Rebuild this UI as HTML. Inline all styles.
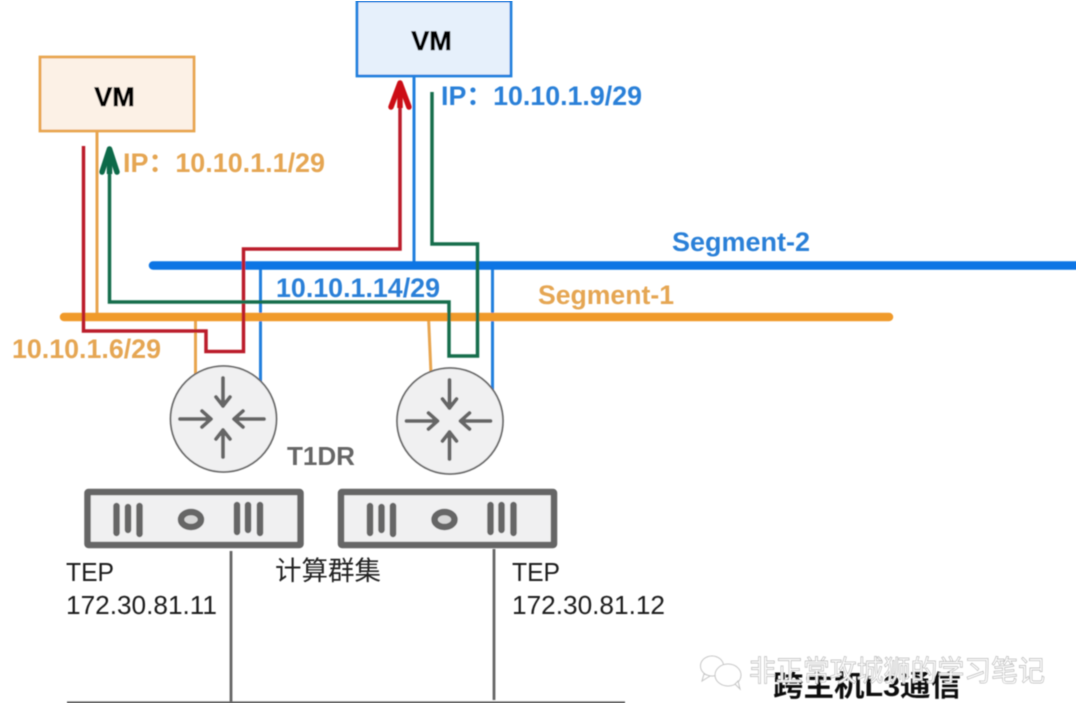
<!DOCTYPE html>
<html><head><meta charset="utf-8">
<style>
html,body{margin:0;padding:0;background:#fff;width:1080px;height:719px;overflow:hidden}
svg{display:block}
text{font-family:"Liberation Sans","Noto Sans CJK SC",sans-serif}
.b{font-weight:bold}
</style></head>
<body>
<svg width="1080" height="719" viewBox="0 0 1080 719" xmlns="http://www.w3.org/2000/svg">
<rect width="1080" height="719" fill="#fff"/>
<defs><filter id="s" x="0" y="0" width="100%" height="100%"><feGaussianBlur stdDeviation="0.6"/></filter></defs>
<g filter="url(#s)">

<!-- VM boxes -->
<rect x="40" y="57" width="154" height="74" fill="#fcf1e6" stroke="#e8a54f" stroke-width="2.800"/>
<text x="114.500" y="106" class="b" font-size="27" text-anchor="middle" fill="#000" stroke="#000" stroke-width="0.500">VM</text>
<rect x="357" y="1" width="154" height="75" fill="#e6f0fb" stroke="#2480de" stroke-width="2.800"/>
<text x="431.500" y="50" class="b" font-size="27" text-anchor="middle" fill="#000" stroke="#000" stroke-width="0.500">VM</text>

<!-- thin stems -->
<line x1="97" y1="131" x2="97" y2="317" stroke="#e8a54f" stroke-width="3"/>
<line x1="414" y1="76" x2="414" y2="265" stroke="#2480de" stroke-width="3"/>
<line x1="195.500" y1="317" x2="195.500" y2="376" stroke="#e8a54f" stroke-width="3"/>
<path d="M428.500 317 L431 374" fill="none" stroke="#e8a54f" stroke-width="3"/>
<line x1="260.500" y1="265" x2="260.500" y2="382" stroke="#2480de" stroke-width="3"/>
<line x1="492.500" y1="265" x2="492.500" y2="392" stroke="#2480de" stroke-width="3"/>

<!-- segment bars -->
<line x1="153" y1="265.500" x2="1076" y2="265.500" stroke="#0a74e4" stroke-width="8.500" stroke-linecap="round"/>
<line x1="64" y1="317" x2="889" y2="317" stroke="#f09a2c" stroke-width="8.500" stroke-linecap="round"/>

<!-- red path -->
<path d="M83.500 146 V331 H206 V351.500 H243.500 V249 H400 V84" fill="none" stroke="#bb1f2b" stroke-width="3.500"/>
<path d="M391 107 L400 83 L409 107" fill="none" stroke="#cc0f14" stroke-width="5.500" stroke-linecap="round" stroke-linejoin="round"/>
<line x1="400" y1="84" x2="400" y2="108" stroke="#cc0f14" stroke-width="5.500"/>

<!-- green path -->
<path d="M432 92 V244 H477.500 V356 H449 V302 H109.500 V150" fill="none" stroke="#146e4e" stroke-width="3.500"/>
<path d="M102 172 L109.500 149 L117 172" fill="none" stroke="#0e6b4a" stroke-width="5.500" stroke-linecap="round" stroke-linejoin="round"/>
<line x1="109.500" y1="150" x2="109.500" y2="174" stroke="#0e6b4a" stroke-width="5.500"/>

<!-- routers -->
<g>
<circle cx="223.500" cy="419" r="53" fill="#f0f0f1" stroke="#6a6a6a" stroke-width="1.800"/>
<g fill="none" stroke="#666" stroke-width="3.800" stroke-linecap="round" stroke-linejoin="round">
<path d="M223 378 V406 M216 397 L223 406 L230 397"/>
<path d="M223 457 V430 M216 439 L223 430 L230 439"/>
<path d="M180 419 H210 M202 411 L211 419 L202 427"/>
<path d="M264 419 H235 M243 411 L234 419 L243 427"/>
</g>
</g>
<g transform="translate(226.500,2)">
<circle cx="223.500" cy="419" r="53" fill="#f0f0f1" stroke="#6a6a6a" stroke-width="1.800"/>
<g fill="none" stroke="#666" stroke-width="3.800" stroke-linecap="round" stroke-linejoin="round">
<path d="M223 378 V406 M216 397 L223 406 L230 397"/>
<path d="M223 457 V430 M216 439 L223 430 L230 439"/>
<path d="M180 419 H210 M202 411 L211 419 L202 427"/>
<path d="M264 419 H235 M243 411 L234 419 L243 427"/>
</g>
</g>

<!-- servers -->
<g>
<rect x="87.500" y="492" width="213" height="53" rx="1" fill="#f0f0f1" stroke="#666" stroke-width="6.500"/>
<g stroke="#666" stroke-width="6.500" stroke-linecap="round">
<line x1="116.500" y1="506" x2="116.500" y2="533"/><line x1="128" y1="507" x2="128" y2="530"/><line x1="139.500" y1="506" x2="139.500" y2="534"/>
<line x1="237" y1="505" x2="237" y2="532"/><line x1="248" y1="505" x2="248" y2="530"/><line x1="260" y1="505" x2="260" y2="533"/>
</g>
<ellipse cx="191" cy="519.500" rx="10" ry="7.500" fill="#d6d6d6" stroke="#666" stroke-width="6.500"/>
</g>
<g transform="translate(253.500,0)">
<rect x="87.500" y="492" width="213" height="53" rx="1" fill="#f0f0f1" stroke="#666" stroke-width="6.500"/>
<g stroke="#666" stroke-width="6.500" stroke-linecap="round">
<line x1="116.500" y1="506" x2="116.500" y2="533"/><line x1="128" y1="507" x2="128" y2="530"/><line x1="139.500" y1="506" x2="139.500" y2="534"/>
<line x1="237" y1="505" x2="237" y2="532"/><line x1="248" y1="505" x2="248" y2="530"/><line x1="260" y1="505" x2="260" y2="533"/>
</g>
<ellipse cx="191" cy="519.500" rx="10" ry="7.500" fill="#d6d6d6" stroke="#666" stroke-width="6.500"/>
</g>

<!-- network lines -->
<line x1="231" y1="551" x2="231" y2="703" stroke="#666" stroke-width="2.800"/>
<line x1="494" y1="549" x2="494" y2="700" stroke="#666" stroke-width="2.800"/>
<line x1="67" y1="703" x2="625" y2="703" stroke="#666" stroke-width="3.200"/>

<!-- labels -->
<text x="123" y="172" class="b" font-size="26.500" fill="#e5a652" textLength="202" lengthAdjust="spacingAndGlyphs">IP：10.10.1.1/29</text>
<text x="441" y="105" class="b" font-size="26.500" fill="#2b80d8" textLength="201" lengthAdjust="spacingAndGlyphs">IP：10.10.1.9/29</text>
<text x="276" y="297" class="b" font-size="26.800" fill="#2b80d8" textLength="164" lengthAdjust="spacingAndGlyphs">10.10.1.14/29</text>
<text x="12" y="358" class="b" font-size="26.800" fill="#e5a652" textLength="149" lengthAdjust="spacingAndGlyphs">10.10.1.6/29</text>
<text x="672" y="251" class="b" font-size="27" fill="#2b80d8" textLength="138" lengthAdjust="spacingAndGlyphs">Segment-2</text>
<text x="538" y="304" class="b" font-size="27" fill="#e5a652" textLength="136" lengthAdjust="spacingAndGlyphs">Segment-1</text>
<text x="287" y="465" class="b" font-size="26" fill="#666" textLength="68" lengthAdjust="spacingAndGlyphs">T1DR</text>
<text x="66" y="581" font-size="26" fill="#1a1a1a" textLength="48" lengthAdjust="spacingAndGlyphs">TEP</text>
<text x="66" y="614" font-size="26" fill="#1a1a1a" textLength="151" lengthAdjust="spacingAndGlyphs">172.30.81.11</text>
<text x="512" y="581" font-size="26" fill="#1a1a1a" textLength="48" lengthAdjust="spacingAndGlyphs">TEP</text>
<text x="512" y="614" font-size="26" fill="#1a1a1a" textLength="153" lengthAdjust="spacingAndGlyphs">172.30.81.12</text>
<text x="275" y="580" font-size="26.500" fill="#222" textLength="106" lengthAdjust="spacingAndGlyphs">计算群集</text>

<!-- watermark -->
<g fill="#fff" stroke="#c4c4c4" stroke-width="1">
<ellipse cx="712" cy="666" rx="11.500" ry="10"/>
<path d="M704 674 L702 681 L710 676 Z"/>
<ellipse cx="728" cy="675" rx="13" ry="11"/>
<path d="M735 684 L740 689 L738 681 Z"/>
</g>
<text x="773" y="696" class="b" font-size="29" fill="#111" textLength="188" lengthAdjust="spacingAndGlyphs">跨主机L3通信</text>
<text x="749" y="681" font-size="29" fill="#fff" stroke="#b5b5b5" stroke-width="0.700" textLength="296" lengthAdjust="spacingAndGlyphs">非正常攻城狮的学习笔记</text>
</g>
</svg>
</body></html>
